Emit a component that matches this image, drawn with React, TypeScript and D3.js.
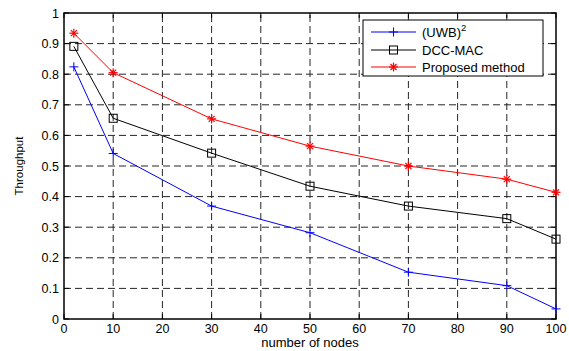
import React from "react";
import * as d3 from "d3";

const nodes = [2, 10, 30, 50, 70, 90, 100];
const uwb = [0.824, 0.541, 0.369, 0.282, 0.153, 0.109, 0.033];
const dcc = [0.891, 0.656, 0.542, 0.434, 0.369, 0.328, 0.261];
const proposed = [0.934, 0.805, 0.654, 0.565, 0.5, 0.457, 0.414];
const xTicks = [0, 10, 20, 30, 40, 50, 60, 70, 80, 90, 100];
const yTicks = [0, 0.1, 0.2, 0.3, 0.4, 0.5, 0.6, 0.7, 0.8, 0.9, 1];

const W = 569, H = 351;
const L = 64, R = 556, T = 13, B = 319;

function Marker({ type, x, y, color }: { type: string; x: number; y: number; color: string }) {
  const s = 4.5;
  if (type === "plus") {
    return (
      <g stroke={color} strokeWidth={1}>
        <line x1={x - s} x2={x + s} y1={y} y2={y} />
        <line x1={x} x2={x} y1={y - s} y2={y + s} />
      </g>
    );
  }
  if (type === "square") {
    return <rect x={x - 4} y={y - 4} width={8} height={8} fill="none" stroke={color} strokeWidth={1} />;
  }
  const d = 4;
  return (
    <g stroke={color} strokeWidth={1.2}>
      <line x1={x - s} x2={x + s} y1={y} y2={y} />
      <line x1={x} x2={x} y1={y - s} y2={y + s} />
      <line x1={x - d * 0.75} x2={x + d * 0.75} y1={y - d * 0.75} y2={y + d * 0.75} />
      <line x1={x - d * 0.75} x2={x + d * 0.75} y1={y + d * 0.75} y2={y - d * 0.75} />
    </g>
  );
}

export default function App() {
  const x = d3.scaleLinear().domain([0, 100]).range([L, R]);
  const y = d3.scaleLinear().domain([0, 1]).range([B, T]);
  const line = d3.line<[number, number]>().x((d) => x(d[0])).y((d) => y(d[1]));
  const series = [
    { name: "uwb", vals: uwb, color: "#0000ff", marker: "plus" },
    { name: "dcc", vals: dcc, color: "#000000", marker: "square" },
    { name: "prop", vals: proposed, color: "#ff0000", marker: "star" },
  ];
  const font = "Liberation Sans, Arial, sans-serif";
  const legend = [
    { label: "(UWB)", sup: "2", color: "#0000ff", marker: "plus", y: 32 },
    { label: "DCC-MAC", sup: "", color: "#000000", marker: "square", y: 50 },
    { label: "Proposed method", sup: "", color: "#ff0000", marker: "star", y: 67 },
  ];
  return (
    <svg width={W} height={H} style={{ position: "absolute", left: 0, top: 0 }} fontFamily={font}>
      <rect x={0} y={0} width={W} height={H} fill="#fff" />
      {/* grid */}
      <g stroke="#000" strokeWidth={1} strokeDasharray="7,4" opacity={0.85}>
        {xTicks.slice(1, -1).map((t) => (
          <line key={"gx" + t} x1={x(t)} x2={x(t)} y1={B} y2={T} />
        ))}
        {yTicks.slice(1, -1).map((t) => (
          <line key={"gy" + t} x1={L} x2={R} y1={y(t)} y2={y(t)} />
        ))}
      </g>
      {/* box */}
      <rect x={L} y={T} width={R - L} height={B - T} fill="none" stroke="#000" strokeWidth={1.5} />
      {/* ticks */}
      <g stroke="#000" strokeWidth={1}>
        {xTicks.map((t) => (
          <g key={"tx" + t}>
            <line x1={x(t)} x2={x(t)} y1={B} y2={B - 5} />
            <line x1={x(t)} x2={x(t)} y1={T} y2={T + 5} />
          </g>
        ))}
        {yTicks.map((t) => (
          <g key={"ty" + t}>
            <line x1={L} x2={L + 5} y1={y(t)} y2={y(t)} />
            <line x1={R} x2={R - 5} y1={y(t)} y2={y(t)} />
          </g>
        ))}
      </g>
      {/* tick labels */}
      <g fontSize={12.5} fill="#000">
        {xTicks.map((t) => (
          <text key={"lx" + t} x={x(t)} y={B + 14} textAnchor="middle">
            {t}
          </text>
        ))}
        {yTicks.map((t) => (
          <text key={"ly" + t} x={L - 5} y={y(t) + 4.5} textAnchor="end">
            {String(t)}
          </text>
        ))}
      </g>
      <text x={(L + R) / 2} y={347} textAnchor="middle" fontSize={13}>
        number of nodes
      </text>
      <text transform={`translate(23,${(T + B) / 2}) rotate(-90)`} textAnchor="middle" fontSize={11.5}>
        Throughput
      </text>
      {/* series */}
      {series.map((s) => {
        const pts = nodes.map((n, i) => [n, s.vals[i]] as [number, number]);
        return (
          <g key={s.name}>
            <path d={line(pts) || ""} fill="none" stroke={s.color} strokeWidth={1} />
            {pts.map((p, i) => (
              <Marker key={i} type={s.marker} x={x(p[0])} y={y(p[1])} color={s.color} />
            ))}
          </g>
        );
      })}
      {/* legend */}
      <rect x={363} y={20} width={180} height={56} fill="#fff" stroke="#000" strokeWidth={1} />
      {legend.map((l) => (
        <g key={l.label}>
          <line x1={371} x2={416} y1={l.y} y2={l.y} stroke={l.color} strokeWidth={1} />
          <Marker type={l.marker} x={393.5} y={l.y} color={l.color} />
          <text x={422} y={l.y + 4.5} fontSize={13}>
            {l.label}
            {l.sup ? (
              <tspan dy={-5.5} fontSize={9.5}>
                {l.sup}
              </tspan>
            ) : null}
          </text>
        </g>
      ))}
    </svg>
  );
}
